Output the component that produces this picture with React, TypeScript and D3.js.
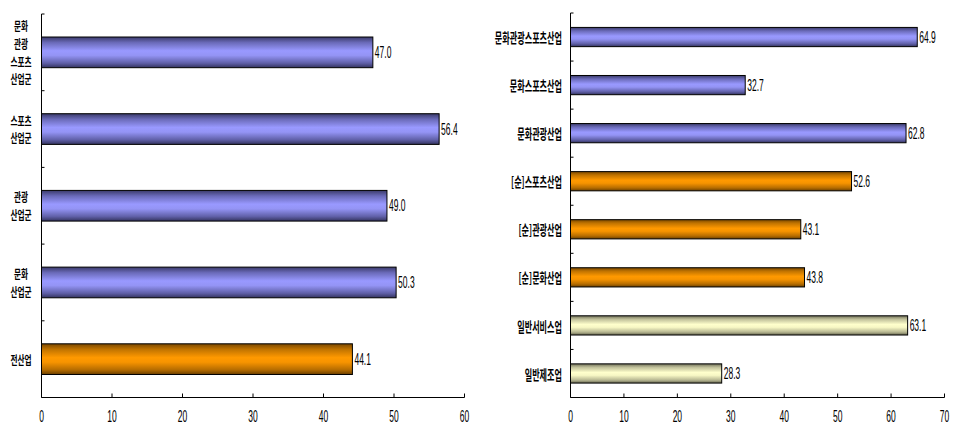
import React from "react";
import * as d3 from "d3";

const leftCategories = ["문화\n관광\n스포츠\n산업군", "스포츠\n산업군", "관광\n산업군", "문화\n산업군", "전산업"];
const leftValues = [47.0, 56.4, 49.0, 50.3, 44.1];
const leftGroups = ["blue", "blue", "blue", "blue", "orange"];
const leftTicks = [0, 10, 20, 30, 40, 50, 60];

const rightCategories = ["문화관광스포츠산업", "문화스포츠산업", "문화관광산업", "[순]스포츠산업", "[순]관광산업", "[순]문화산업", "일반서비스업", "일반제조업"];
const rightValues = [64.9, 32.7, 62.8, 52.6, 43.1, 43.8, 63.1, 28.3];
const rightGroups = ["blue", "blue", "blue", "orange", "orange", "orange", "yellow", "yellow"];
const rightTicks = [0, 10, 20, 30, 40, 50, 60, 70];

const NUM_FONT = "'Liberation Sans', Arial, sans-serif";
const KR_FONT = "'Noto Sans CJK KR', sans-serif";

type PanelProps = {
  cats: string[];
  vals: number[];
  groups: string[];
  ticks: number[];
  x0: number;
  x1: number;
  y0: number;
  y1: number;
  labelMode: "multi" | "single";
  labelX: number;
};

function Panel({ cats, vals, groups, ticks, x0, x1, y0, y1, labelMode, labelX }: PanelProps) {
  const x = d3.scaleLinear().domain([0, ticks[ticks.length - 1]]).range([x0, x1]);
  const y = d3.scaleBand<string>().domain(cats).range([y0, y1]).paddingInner(0.6).paddingOuter(0.3);
  const step = y.step();
  const boundaries = d3.range(cats.length + 1).map((i) => y0 + i * step);
  return (
    <g>
      {cats.map((c, i) => {
        const by = y(c)!;
        const bw = x(vals[i]) - x0;
        const cy = by + y.bandwidth() / 2;
        const lines = c.split("\n");
        const lh = 17.6;
        return (
          <g key={c}>
            <rect x={x0} y={by} width={bw} height={y.bandwidth()} fill={`url(#grad-${groups[i]})`} stroke="#000" strokeWidth={1} />
            <text
              transform={`translate(${x(vals[i]) + 2},${cy}) scale(0.5,1)`}
              fontFamily={NUM_FONT}
              fontSize={17}
              dominantBaseline="central"
              fill="#000"
            >
              {vals[i].toFixed(1)}
            </text>
            {labelMode === "multi"
              ? lines.map((ln, k) => (
                  <text
                    key={k}
                    transform={`translate(${labelX},${cy + (k - (lines.length - 1) / 2) * lh}) scale(0.64,1)`}
                    fontFamily={KR_FONT}
                    fontSize={12}
                    fontWeight={600}
                    textAnchor="middle"
                    dominantBaseline="central"
                    fill="#000"
                  >
                    {ln}
                  </text>
                ))
              : (
                  <text
                    transform={`translate(${labelX},${cy}) scale(0.58,1)`}
                    fontFamily={KR_FONT}
                    fontSize={14}
                    fontWeight={600}
                    textAnchor="end"
                    dominantBaseline="central"
                    fill="#000"
                  >
                    {c}
                  </text>
                )}
          </g>
        );
      })}
      {/* y axis */}
      <line x1={x0} x2={x0} y1={y0} y2={y1} stroke="#000" strokeWidth={1} />
      {boundaries.slice(0, -1).map((b, i) => (
        <line key={i} x1={x0} x2={x0 + 3} y1={b} y2={b} stroke="#000" strokeWidth={1} />
      ))}
      {/* x axis */}
      <line x1={x0} x2={x1} y1={y1} y2={y1} stroke="#000" strokeWidth={1} />
      {ticks.map((t) => (
        <g key={t}>
          <line x1={x(t)} x2={x(t)} y1={y1} y2={y1 - 4} stroke="#000" strokeWidth={1} />
          <text
            transform={`translate(${x(t)},${y1 + 19}) scale(0.5,1)`}
            fontFamily={NUM_FONT}
            fontSize={17}
            textAnchor="middle"
            dominantBaseline="central"
            fill="#000"
          >
            {t}
          </text>
        </g>
      ))}
    </g>
  );
}

export default function App() {
  return (
    <svg width={960} height={440} style={{ position: "absolute", left: 0, top: 0, background: "#fff" }}>
      <defs>
        <linearGradient id="grad-blue" x1="0" y1="0" x2="0" y2="1">
          <stop offset="0" stopColor="#3a3a6a" />
          <stop offset="0.18" stopColor="#6a6ab8" />
          <stop offset="0.45" stopColor="#9999ff" />
          <stop offset="0.6" stopColor="#9494f5" />
          <stop offset="0.85" stopColor="#6060a8" />
          <stop offset="1" stopColor="#33335e" />
        </linearGradient>
        <linearGradient id="grad-orange" x1="0" y1="0" x2="0" y2="1">
          <stop offset="0" stopColor="#7a4800" />
          <stop offset="0.18" stopColor="#c07300" />
          <stop offset="0.45" stopColor="#ff9900" />
          <stop offset="0.6" stopColor="#f79400" />
          <stop offset="0.85" stopColor="#b56c00" />
          <stop offset="1" stopColor="#6a3f00" />
        </linearGradient>
        <linearGradient id="grad-yellow" x1="0" y1="0" x2="0" y2="1">
          <stop offset="0" stopColor="#707058" />
          <stop offset="0.18" stopColor="#c0c09a" />
          <stop offset="0.45" stopColor="#ffffcc" />
          <stop offset="0.6" stopColor="#f7f7c4" />
          <stop offset="0.85" stopColor="#b5b590" />
          <stop offset="1" stopColor="#66664f" />
        </linearGradient>
      </defs>
      <Panel
        cats={leftCategories}
        vals={leftValues}
        groups={leftGroups}
        ticks={leftTicks}
        x0={41.5}
        x1={464.5}
        y0={14}
        y1={397.5}
        labelMode="multi"
        labelX={21}
      />
      <Panel
        cats={rightCategories}
        vals={rightValues}
        groups={rightGroups}
        ticks={rightTicks}
        x0={570.5}
        x1={944.5}
        y0={13}
        y1={397.5}
        labelMode="single"
        labelX={562}
      />
    </svg>
  );
}
